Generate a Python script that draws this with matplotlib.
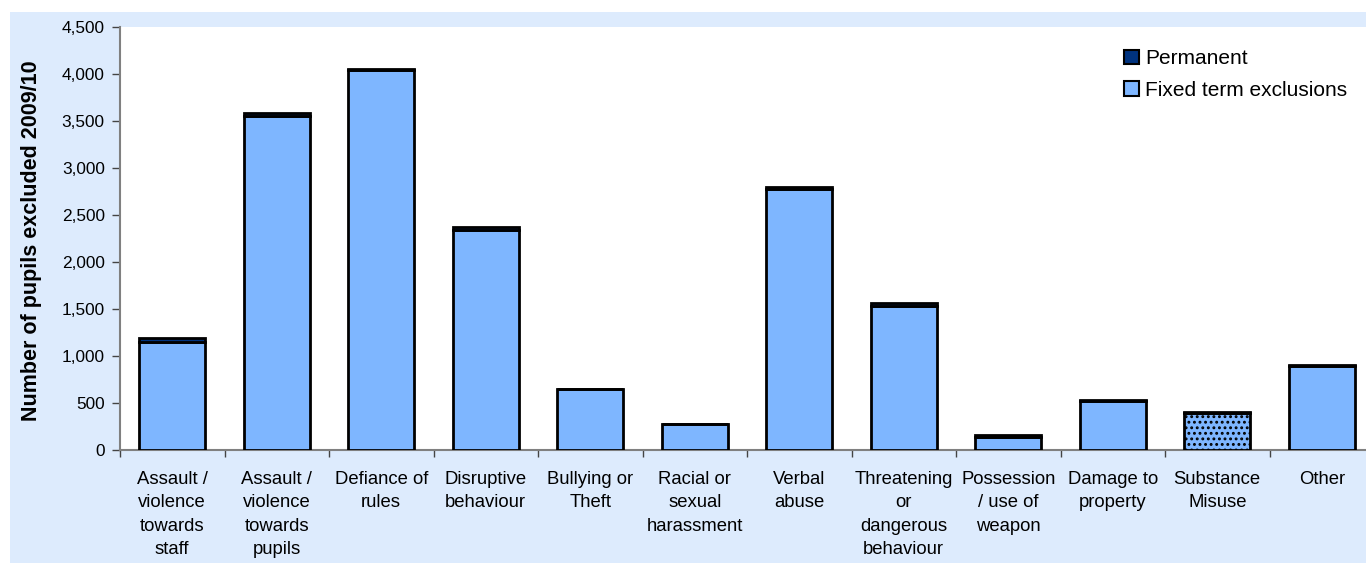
import numpy as np
import matplotlib
matplotlib.use('Agg')
import matplotlib.pyplot as plt
from matplotlib.patches import Rectangle
from matplotlib.ticker import FuncFormatter, FixedLocator

plt.rcParams['font.family'] = ['Liberation Sans', 'DejaVu Sans']
plt.rcParams['hatch.linewidth'] = 1.3

# Data
categories = ['Assault /\nviolence\ntowards\nstaff', 'Assault /\nviolence\ntowards\npupils',
              'Defiance of\nrules', 'Disruptive\nbehaviour', 'Bullying or\nTheft',
              'Racial or\nsexual\nharassment', 'Verbal\nabuse', 'Threatening\nor\ndangerous\nbehaviour',
              'Possession\n/ use of\nweapon', 'Damage to\nproperty', 'Substance\nMisuse', 'Other']
fixed_term = [1150, 3550, 4040, 2345, 645, 275, 2780, 1535, 140, 525, 395, 895]
permanent = [40, 40, 15, 25, 8, 4, 15, 25, 18, 6, 8, 6]
y_ticks = [0, 500, 1000, 1500, 2000, 2500, 3000, 3500, 4000, 4500]

LIGHT = '#7EB6FF'
DARK = '#00337F'

fig = plt.figure(figsize=(13.66, 5.63), dpi=100)
fig.patches.append(Rectangle((10 / 1366, 0), 1 - 10 / 1366, 1 - 12 / 563,
                             transform=fig.transFigure, facecolor='#DDEBFD',
                             edgecolor='none', zorder=-10))

ax = fig.add_axes([120 / 1366, 113 / 563, 1254 / 1366, 423 / 563])
ax.set_facecolor('white')

x = np.arange(len(categories))
bars = ax.bar(x, fixed_term, width=0.63, color=LIGHT, edgecolor='black', linewidth=2,
              label='Fixed term exclusions', zorder=3)
# substance misuse bar is drawn with a dotted fill
bars[10].set_hatch('...')
ax.bar(x, permanent, bottom=fixed_term, width=0.63, color=DARK, edgecolor='black',
       linewidth=2, label='Permanent', zorder=3)

ax.set_xlim(-0.5, len(categories) - 0.5)
ax.set_ylim(0, 4500)
ax.set_yticks(y_ticks)
ax.yaxis.set_major_formatter(FuncFormatter(lambda v, p: f'{int(v):,}'))
ax.tick_params(axis='y', labelsize=12.4, length=6, width=1, color='#444444', pad=5)

ax.xaxis.set_major_locator(FixedLocator(np.arange(len(categories) + 1) - 0.5))
ax.xaxis.set_major_formatter(FuncFormatter(lambda v, p: ''))
ax.xaxis.set_minor_locator(FixedLocator(x))
ax.set_xticklabels(categories, minor=True, fontsize=13.3, linespacing=1.5)
ax.tick_params(axis='x', which='major', length=5, width=1, color='#444444')
ax.tick_params(axis='x', which='minor', length=0, pad=15)

for s in ['top', 'right']:
    ax.spines[s].set_visible(False)
for s in ['left', 'bottom']:
    ax.spines[s].set_color('#808080')
    ax.spines[s].set_linewidth(1.5)

fig.text(32 / 1366, 1 - 241 / 563, 'Number of pupils excluded 2009/10', rotation=90,
         ha='center', va='center', fontsize=15.5, fontweight='bold')

handles, labels = ax.get_legend_handles_labels()
leg = ax.legend(handles[::-1], labels[::-1], loc='upper left',
                bbox_to_anchor=((1116 - 120) / 1254, 1 - 14 / 423),
                frameon=False, fontsize=15, handlelength=0.7, handleheight=0.7,
                handletextpad=0.3, labelspacing=0.6, borderaxespad=0)
for h in leg.legend_handles:
    h.set_hatch(None)
    h.set_linewidth(1.5)

fig.savefig('out.png', dpi=100, facecolor='white')
